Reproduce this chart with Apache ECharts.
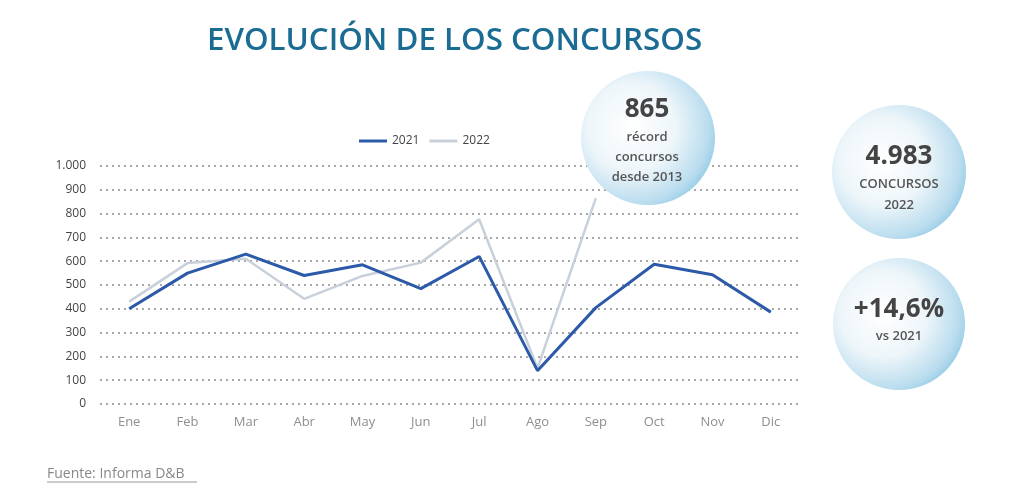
<!DOCTYPE html>
<html>
<head>
<meta charset="utf-8">
<script src="https://cdn.jsdelivr.net/npm/echarts@6/dist/echarts.min.js"></script>
<style>
html,body{margin:0;padding:0;background:#fff;}
#c{width:1024px;height:499px;}
</style>
</head>
<body>
<div id="c"></div>
<script>
const months = ['Ene','Feb','Mar','Abr','May','Jun','Jul','Ago','Sep','Oct','Nov','Dic'];
const s2021 = [400,550,630,540,585,485,620,140,405,587,543,386];
const s2022 = [430,592,610,442,538,594,776,150,865,null,null,null];
const seriesNames = ['2021','2022'];
const yTicks = {min:0,max:1000,interval:100};

const chart = echarts.init(document.getElementById('c'));
const bubbleFill = {
  type:'radial', x:0.38, y:0.42, r:0.72,
  colorStops:[
    {offset:0,color:'#ffffff'},
    {offset:0.45,color:'#eef6fa'},
    {offset:0.8,color:'#b9dcee'},
    {offset:1,color:'#7cc0e2'}
  ]
};
function bubble(cx,cy,r){
  return {type:'circle',z:100,shape:{cx:cx,cy:cy,r:r},style:{fill:bubbleFill}};
}
function txt(x,y,t,size,weight,color){
  return {type:'text',z:101,x:x,y:y,style:{text:t,font:weight+' '+size+'px "Open Sans", sans-serif',fill:color||'#444',align:'center',verticalAlign:'middle'}};
}
chart.setOption({
  animation:false,
  backgroundColor:'#fff',
  legend:{
    data:seriesNames, left:354, top:130, icon:'rect', itemWidth:28, itemHeight:3, itemGap:10,
    textStyle:{fontSize:12,color:'#444',fontFamily:'"Open Sans", sans-serif'}
  },
  grid:{left:100,right:224,top:166,bottom:95},
  xAxis:{
    type:'category', data:months, boundaryGap:true,
    axisLine:{show:false}, axisTick:{show:false},
    axisLabel:{color:'#8f8f8f',fontSize:13,margin:12,fontFamily:'"Open Sans", sans-serif'}
  },
  yAxis:{
    type:'value', min:yTicks.min, max:yTicks.max, interval:yTicks.interval,
    axisLine:{show:false}, axisTick:{show:false},
    axisLabel:{color:'#444',fontSize:12,margin:14,fontFamily:'"Open Sans", sans-serif',
      formatter:v=>v>=1000?(Math.floor(v/1000)+'.'+String(v%1000).padStart(3,'0')):String(v)},
    splitLine:{lineStyle:{type:[2,4],color:'#a8a8a8',width:2}}
  },
  series:[
    {name:seriesNames[0],type:'line',data:s2021,symbol:'none',z:3,
     lineStyle:{color:'#2c5aa8',width:3},itemStyle:{color:'#2c5aa8'}},
    {name:seriesNames[1],type:'line',data:s2022,symbol:'none',z:2,
     lineStyle:{color:'#c8d0da',width:2.5},itemStyle:{color:'#c8d0da'}}
  ],
  graphic:[
    {type:'text',z:101,x:207,y:41,style:{text:'EVOLUCIÓN DE LOS CONCURSOS',font:'600 31.3px "Open Sans", sans-serif',fill:'#1b6c93',verticalAlign:'middle'}},
    bubble(648,138,67),
    txt(647,110,'865',26,'bold','#444'),
    txt(647,137,'récord',13,'600','#555'),
    txt(647,157,'concursos',13,'600','#555'),
    txt(647,177,'desde 2013',13,'600','#555'),
    bubble(899,172,67),
    txt(899,157,'4.983',26,'bold','#444'),
    txt(899,184,'CONCURSOS',13,'600','#555'),
    txt(899,205,'2022',13,'600','#555'),
    bubble(899,324,66),
    txt(899,310,'+14,6%',26,'bold','#444'),
    txt(899,336,'vs 2021',13,'600','#555'),
    {type:'text',z:101,x:47,y:474,style:{text:'Fuente: Informa D&B',font:'14px "Open Sans", sans-serif',fill:'#888',verticalAlign:'middle'}},
    {type:'line',z:101,shape:{x1:47,y1:482,x2:197,y2:482},style:{stroke:'#999',lineWidth:1}}
  ]
});
</script>
</body>
</html>
